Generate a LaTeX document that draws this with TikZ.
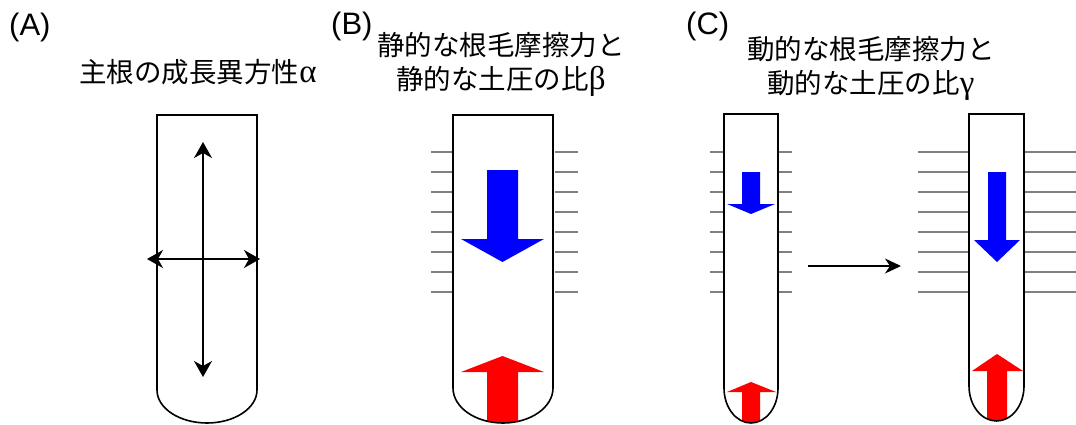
\documentclass[tikz,border=0pt]{standalone}
\usepackage{fontspec}
\setmainfont{Liberation Sans}
\newfontfamily\jpfont{Noto Sans CJK JP}
\newfontfamily\grkfont{Liberation Serif}
\newcommand\grk[1]{{\grkfont\fontsize{33}{34}\selectfont #1}}
\usetikzlibrary{arrows.meta}
\tikzset{
  tubeline/.style={draw=black, line width=1.6pt},
  hashline/.style={draw=black!50, line width=1.1pt},
  dimarrow/.style={line width=1.4pt, {Stealth[length=16pt,width=18pt,inset=5pt]}-{Stealth[length=16pt,width=18pt,inset=5pt]}},
  steparrow/.style={line width=1.3pt, -{Stealth[length=16pt,width=15pt,inset=5pt]}},
  friction/.style={fill={rgb,255:red,0;green,0;blue,255}},
  pressure/.style={fill={rgb,255:red,255;green,0;blue,0}},
  jptext/.style={font={\jpfont\fontsize{27.5}{34}\selectfont}, inner sep=0pt, align=center},
  panellabel/.style={font={\fontsize{31}{33}\selectfont}, inner sep=0pt, anchor=west}
}
\begin{document}
\begin{tikzpicture}[x=1pt,y=-1pt]
\useasboundingbox[fill=white] (0,0) rectangle (1076,425);

% ---------- labels ----------
\node[panellabel] (labA) at (9,27) {(A)};
\node[panellabel] (labB) at (331,26) {(B)};
\node[panellabel] (labC) at (686,26) {(C)};

\node[jptext] (titleA) at (198,72) {主根の成長異方性\grk{α}};
\node[jptext] (titleB) at (501,64) {静的な根毛摩擦力と\\静的な土圧の比\grk{β}};
\node[jptext] (titleC) at (871,68) {動的な根毛摩擦力と\\動的な土圧の比\grk{γ}};

% ---------- (A) ----------
\draw[tubeline] (157,115) -- (157,390) arc[start angle=180, end angle=360, x radius=50pt, y radius=33pt] -- (257,115) -- cycle;
\coordinate (aTop) at (203,142);
\coordinate (aBot) at (203,377);
\coordinate (aLeft) at (147,259);
\coordinate (aRight) at (260,259);
\draw[dimarrow] (aBot) -- (aTop);
\draw[dimarrow] (aLeft) -- (aRight);

% ---------- (B) ----------
\foreach \y in {152,172,192,212,232,252,272,292}{
  \draw[hashline] (431,\y) -- (452,\y);
  \draw[hashline] (555,\y) -- (578,\y);
}
\fill[friction] (487,170) -- (518,170) -- (518,239) -- (544,239) -- (502.5,262) -- (461,239) -- (487,239) -- cycle;
\begin{scope}
  \clip (453,115) -- (453,388) arc[start angle=180, end angle=360, x radius=50pt, y radius=35pt] -- (553,115) -- cycle;
  \fill[pressure] (502.5,356) -- (544,372) -- (518,372) -- (518,440) -- (487,440) -- (487,372) -- (461,372) -- cycle;
\end{scope}
\draw[tubeline] (453,115) -- (453,388) arc[start angle=180, end angle=360, x radius=50pt, y radius=35pt] -- (553,115) -- cycle;

% ---------- (C) left ----------
\foreach \y in {152,172,192,212,232,252,272,292}{
  \draw[hashline] (710,\y) -- (723,\y);
  \draw[hashline] (779,\y) -- (792,\y);
}
\fill[friction] (742,172) -- (760,172) -- (760,204) -- (775,204) -- (751,214) -- (727,204) -- (742,204) -- cycle;
\begin{scope}
  \clip (724,114) -- (724,388) arc[start angle=180, end angle=360, x radius=27pt, y radius=35pt] -- (778,114) -- cycle;
  \fill[pressure] (751,382) -- (776,392) -- (760,392) -- (760,440) -- (742,440) -- (742,392) -- (727,392) -- cycle;
\end{scope}
\draw[tubeline] (724,114) -- (724,388) arc[start angle=180, end angle=360, x radius=27pt, y radius=35pt] -- (778,114) -- cycle;

% ---------- step arrow ----------
\coordinate (cFrom) at (808,266);
\coordinate (cTo) at (901,266);
\draw[steparrow] (cFrom) -- (cTo);

% ---------- (C) right ----------
\foreach \y in {152,172,192,212,232,252,272,292}{
  \draw[hashline] (918,\y) -- (968,\y);
  \draw[hashline] (1025,\y) -- (1076,\y);
}
\fill[friction] (988,172) -- (1006,172) -- (1006,240) -- (1020,240) -- (997,262) -- (974,240) -- (988,240) -- cycle;
\begin{scope}
  \clip (969,114) -- (969,386) arc[start angle=180, end angle=360, x radius=27.5pt, y radius=35pt] -- (1024,114) -- cycle;
  \fill[pressure] (997,354) -- (1023,371) -- (1007,371) -- (1007,440) -- (987,440) -- (987,371) -- (972,371) -- cycle;
\end{scope}
\draw[tubeline] (969,114) -- (969,386) arc[start angle=180, end angle=360, x radius=27.5pt, y radius=35pt] -- (1024,114) -- cycle;
\end{tikzpicture}
\end{document}
